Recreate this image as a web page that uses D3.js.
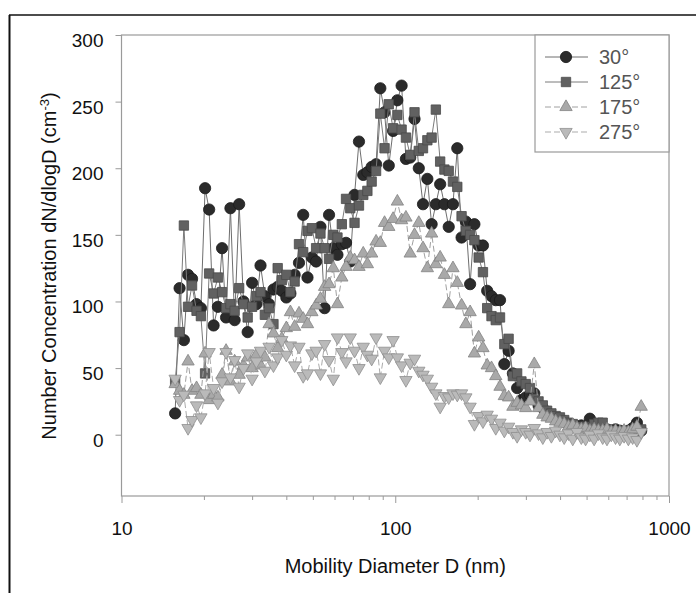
<!DOCTYPE html>
<html>
<head>
<meta charset="utf-8">
<script src="https://cdnjs.cloudflare.com/ajax/libs/d3/7.8.5/d3.min.js"></script>
<style>
  body { margin: 0; background: #fff; }
  svg text { font-family: "Liberation Sans", Arial, Helvetica, sans-serif; }
</style>
</head>
<body>
<div id="chart"></div>
<script>

// SMPS channel midpoints (nm)
var diameters = [
    15.7, 16.3, 16.9, 17.5, 18.1, 18.8, 19.5, 20.2, 20.9, 21.7,
    22.5, 23.3, 24.1, 25.0, 25.9, 26.9, 27.9, 28.9, 30.0, 31.1,
    32.2, 33.4, 34.6, 35.9, 37.2, 38.5, 40.0, 41.4, 42.9, 44.5,
    46.1, 47.8, 49.6, 51.4, 53.3, 55.2, 57.3, 59.4, 61.5, 63.8,
    66.1, 68.5, 71.0, 73.7, 76.4, 79.1, 82.0, 85.1, 88.2, 91.4,
    94.7, 98.2, 101.8, 105.5, 109.4, 113.4, 117.6, 121.9, 126.3, 131.0,
    135.8, 140.7, 145.9, 151.2, 156.8, 162.5, 168.5, 174.7, 181.1, 187.7,
    194.6, 201.7, 209.1, 216.7, 224.7, 232.9, 241.4, 250.3, 259.5, 269.0,
    278.8, 289.0, 299.6, 310.6, 322.0, 333.8, 346.0, 358.7, 371.8, 385.4,
    399.6, 414.2, 429.4, 445.1, 461.4, 478.3, 495.8, 514.0, 532.8, 552.3,
    572.5, 593.5, 615.3, 637.8, 661.2, 685.4, 710.5, 736.5, 763.5, 791.5
]

// dN/dlogD (cm-3) per angle
var conc30 = [
    16, 110, 71, 120, 117, 98, 95, 185, 169, 82,
    96, 140, 88, 170, 86, 173, 100, 77, 114, 98,
    127, 104, 98, 109, 111, 108, 103, 106, 120, 129,
    165, 118, 133, 130, 156, 95, 165, 140, 135, 143,
    144, 130, 180, 220, 195, 197, 201, 203, 260, 242,
    202, 228, 251, 262, 207, 208, 237, 200, 173, 192,
    158, 173, 188, 173, 156, 173, 215, 148, 160, 113,
    158, 142, 142, 108, 104, 101, 101, 53, 63, 46,
    35, 26, 28, 30, 31, 22, 20, 17, 14, 12,
    12, 10, 8, 7, 6, 7, 5, 12, 6, 5,
    4, 4, 3, 4, 3, 2, 3, 5, 9, 3
]

var conc125 = [
    40, 77, 157, 96, 112, 93, 89, 46, 121, 106,
    118, 107, 95, 98, 93, 110, 98, 88, 96, 104,
    107, 90, 95, 83, 125, 116, 120, 107, 115, 143,
    137, 153, 155, 140, 151, 140, 132, 150, 148, 158,
    177, 170, 159, 172, 180, 183, 190, 198, 241, 215,
    248, 230, 240, 229, 223, 210, 242, 213, 215, 221,
    223, 244, 205, 199, 198, 190, 186, 164, 153, 150,
    146, 133, 122, 95, 89, 86, 88, 68, 72, 44,
    46, 40, 38, 35, 27, 25, 22, 18, 16, 14,
    13, 11, 9, 8, 5, 6, 6, 5, 8, 9,
    9, 4, 3, 2, 2, 3, 2, 3, 3, 4
]

var conc175 = [
    38, 33, 30, 55, 33, 35, 30, 61, 26, 30,
    28, 45, 63, 40, 55, 45, 52, 58, 50, 60,
    52, 58, 83, 76, 65, 72, 80, 92, 81, 91,
    87, 83, 92, 97, 102, 111, 113, 125, 98, 118,
    126, 133, 131, 126, 136, 128, 136, 145, 144, 159,
    156, 162, 175, 161, 163, 136, 150, 159, 140, 125,
    151, 128, 133, 120, 98, 125, 114, 97, 83, 92,
    61, 73, 65, 52, 50, 44, 36, 29, 28, 21,
    24, 22, 20, 25, 53, 20, 15, 13, 12, 10,
    9, 8, 6, 7, 5, 4, 5, 3, 4, 3,
    3, 4, 2, 3, 2, 3, 2, 4, 6, 21
]

var conc275 = [
    42, 26, 30, 5, 11, 22, 13, 31, 62, 35,
    24, 40, 62, 43, 56, 36, 50, 61, 42, 55,
    63, 48, 66, 52, 58, 71, 60, 67, 52, 66,
    44, 46, 61, 63, 46, 68, 56, 42, 73, 62,
    55, 73, 63, 50, 66, 60, 57, 73, 43, 63,
    58, 71, 58, 52, 41, 54, 57, 48, 45, 42,
    36, 31, 21, 29, 28, 31, 30, 31, 28, 21,
    8, 14, 10, 15, 12, 5, 9, 3, 6, 2,
    -1, 4, 2, 0, 5, 1, -2, 2, -1, 3,
    0, -2, 1, -3, 2, -2, -3, 0, -3, 1,
    -2, -3, 0, -2, -3, -1, -3, -2, -4, 2
]

var seriesLabels = ['30°', '125°', '175°', '275°']
var yTicks = [0, 50, 100, 150, 200, 250, 300]
var xTicks = [10, 100, 1000]
var xMinorTicks = [20, 30, 40, 50, 60, 70, 80, 90, 200, 300, 400, 500, 600, 700, 800, 900]


var width = 696
var height = 593

var config = {
    'plot': { 'left': 121.5, 'right': 669, 'top': 35, 'bottom': 496 },
    'yDomain': [-46, 300],
    'axis_colour': '#9a9a9a'
}

var svg = d3.select('#chart').append('svg')
.attr('width', width)
.attr('height', height)

// scales
var xScale = d3.scaleLog()
.domain([10, 1000])
.range([config.plot.left, config.plot.right])

var yScale = d3.scaleLinear()
.domain(config.yDomain)
.range([config.plot.bottom, config.plot.top])

// page border (scanned figure edge)
svg.append('line')
.attr('x1', 9).attr('x2', 696)
.attr('y1', 15).attr('y2', 15)
.style('stroke', '#111')
.style('stroke-width', 1.5)

svg.append('line')
.attr('x1', 9.5).attr('x2', 9.5)
.attr('y1', 15).attr('y2', height)
.style('stroke', '#111')
.style('stroke-width', 2)

// plot frame
svg.append('rect')
.attr('x', config.plot.left)
.attr('y', config.plot.top)
.attr('width', config.plot.right - config.plot.left)
.attr('height', config.plot.bottom - config.plot.top)
.style('fill', 'none')
.style('stroke', config.axis_colour)
.style('stroke-width', 1.2)

// y axis
var yAxisGenerator = d3.axisLeft(yScale)
.tickValues(yTicks)
.tickSize(6)
.tickSizeOuter(0)
.tickPadding(12)

var yAxis = svg.append('g')
.classed('y axis', true)
.attr('transform', 'translate(' + config.plot.left + ',0)')
.call(yAxisGenerator)

yAxis.select('.domain').remove()
yAxis.selectAll('.tick line').style('stroke', config.axis_colour)
yAxis.selectAll('.tick text')
.attr('dy', '0.6em')
.style('font-size', '19px')
.style('fill', '#111')

// x axis - minor ticks first
var xMinorGenerator = d3.axisBottom(xScale)
.tickValues(xMinorTicks)
.tickSize(4)
.tickSizeOuter(0)
.tickFormat('')

var xMinor = svg.append('g')
.classed('x axis-minor', true)
.attr('transform', 'translate(0,' + config.plot.bottom + ')')
.call(xMinorGenerator)

xMinor.select('.domain').remove()
xMinor.selectAll('.tick line').style('stroke', config.axis_colour)

var xAxisGenerator = d3.axisBottom(xScale)
.tickValues(xTicks)
.tickSize(7)
.tickSizeOuter(0)
.tickPadding(19)
.tickFormat(d3.format('d'))

var xAxis = svg.append('g')
.classed('x axis', true)
.attr('transform', 'translate(0,' + config.plot.bottom + ')')
.call(xAxisGenerator)

xAxis.select('.domain').remove()
xAxis.selectAll('.tick line').style('stroke', config.axis_colour)
xAxis.selectAll('.tick text')
.style('font-size', '19px')
.style('fill', '#111')

// axis titles
svg.append('text')
.attr('x', (config.plot.left + config.plot.right) / 2)
.attr('y', 573)
.attr('text-anchor', 'middle')
.style('font-size', '20px')
.style('fill', '#111')
.text('Mobility Diameter D (nm)')

var yTitle = svg.append('text')
.attr('transform', 'translate(56,' + 266 + ') rotate(-90)')
.attr('text-anchor', 'middle')
.style('font-size', '20px')
.style('fill', '#111')

yTitle.append('tspan').text('Number Concentration dN/dlogD (cm')
yTitle.append('tspan')
.attr('baseline-shift', 'super')
.style('font-size', '13px')
.text('-3')
yTitle.append('tspan').text(')')

// series
var series = [
    { 'label': seriesLabels[0], 'values': conc30, 'symbol': d3.symbolCircle, 'size': 100, 'rotate': 0,
      'fill': '#2b2b2b', 'stroke': '#1a1a1a', 'line': '#6e6e6e', 'dash': null },
    { 'label': seriesLabels[1], 'values': conc125, 'symbol': d3.symbolSquare, 'size': 88, 'rotate': 0,
      'fill': '#616161', 'stroke': '#4a4a4a', 'line': '#7a7a7a', 'dash': null },
    { 'label': seriesLabels[2], 'values': conc175, 'symbol': d3.symbolTriangle, 'size': 66, 'rotate': 0,
      'fill': '#a9a9a9', 'stroke': '#838383', 'line': '#a0a0a0', 'dash': '6,3' },
    { 'label': seriesLabels[3], 'values': conc275, 'symbol': d3.symbolTriangle, 'size': 66, 'rotate': 180,
      'fill': '#bababa', 'stroke': '#8f8f8f', 'line': '#ababab', 'dash': '6,3' }
]

var data_layer = svg.append('g')
.classed('data-layer', true)

var line = d3.line()
.x(d => xScale(d.d))
.y(d => yScale(d.v))

series.forEach(function(s) {

    var points = diameters.map(function(d, i) {
        return { 'd': d, 'v': s.values[i] }
    })

    var g = data_layer.append('g')

    g.append('path')
    .datum(points)
    .attr('d', line)
    .style('fill', 'none')
    .style('stroke', s.line)
    .style('stroke-width', 1)
    .style('stroke-dasharray', s.dash)

    g.selectAll('path.marker')
    .data(points)
    .enter()
    .append('path')
    .classed('marker', true)
    .attr('d', d3.symbol().type(s.symbol).size(s.size))
    .attr('transform', d => 'translate(' + xScale(d.d) + ',' + yScale(d.v) + ') rotate(' + s.rotate + ')')
    .style('fill', s.fill)
    .style('stroke', s.stroke)
    .style('stroke-width', 0.8)
})

// legend
var legend = svg.append('g')
.classed('legend', true)

legend.append('rect')
.attr('x', 535)
.attr('y', config.plot.top)
.attr('width', config.plot.right - 535)
.attr('height', 117)
.style('fill', '#fff')
.style('stroke', config.axis_colour)
.style('stroke-width', 1.2)

var legendY = d3.scalePoint()
.domain(seriesLabels)
.range([57, 132])

series.forEach(function(s) {
    var y = legendY(s.label)

    legend.append('line')
    .attr('x1', 545).attr('x2', 588)
    .attr('y1', y).attr('y2', y)
    .style('stroke', s.line)
    .style('stroke-width', 1)
    .style('stroke-dasharray', s.dash)

    legend.append('path')
    .attr('d', d3.symbol().type(s.symbol).size(s.size))
    .attr('transform', 'translate(566,' + y + ') rotate(' + s.rotate + ')')
    .style('fill', s.fill)
    .style('stroke', s.stroke)
    .style('stroke-width', 0.8)

    legend.append('text')
    .attr('x', 599)
    .attr('y', y)
    .attr('dy', '0.36em')
    .style('font-size', '20px')
    .style('fill', '#555')
    .text(s.label)
})

</script>
</body>
</html>
